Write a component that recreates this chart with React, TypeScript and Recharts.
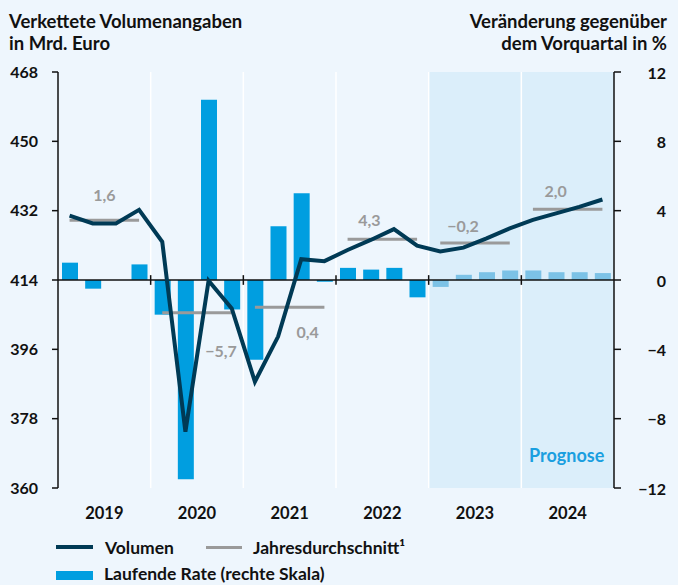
import { ComposedChart, Bar, Line, XAxis, YAxis, ReferenceArea, ReferenceLine, Cell } from 'recharts';

const FONT = 'Lato, "Noto Sans", sans-serif';

// Daten
const years = ['2019', '2020', '2021', '2022', '2023', '2024'];
const quarterNames = ['Q1', 'Q2', 'Q3', 'Q4'];
const quarters = years.flatMap((y) => quarterNames.map((q) => `${y} ${q}`));

// Laufende Rate (rechte Skala, %)
const rate = [1.0, -0.5, 0.0, 0.9, -2.0, -11.5, 10.4, -1.7, -4.6, 3.1, 5.0, -0.1, 0.7, 0.6, 0.7, -1.0, -0.4, 0.3, 0.45, 0.55, 0.55, 0.45, 0.45, 0.4];
// Volumen (linke Skala, Mrd. Euro)
const volumen = [430.7, 428.7, 428.7, 432.2, 423.9, 374.6, 413.8, 406.6, 387.6, 399.3, 419.4, 418.9, 421.8, 424.4, 427.2, 422.9, 421.4, 422.4, 424.8, 427.4, 429.6, 431.3, 433.0, 434.9];
// Jahresdurchschnitt (Niveau) und Veränderung
const avgLevel = [429.5, 405.5, 406.9, 424.6, 423.6, 432.4];
const avgGrowth = ['1,6', '\u22125,7', '0,4', '4,3', '\u22120,2', '2,0'];
const forecastFrom = '2023 Q1';

const leftTicks = [360, 378, 396, 414, 432, 450, 468];
const rightTicks = [-12, -8, -4, 0, 4, 8, 12];

// Label-Versatz (dx, dy) relativ zur Jahresmitte
const labelOffset = [[0, -26], [24, 38], [18, 24], [-13, -20], [-12, -18], [-12, -19]];

const rows = quarters.map((q, i) => {
  const row: Record<string, any> = { q, rate: rate[i], vol: volumen[i] };
  years.forEach((y, yi) => {
    row['avg' + y] = Math.floor(i / 4) === yi ? avgLevel[yi] : null;
  });
  return row;
});

const W = 678;
const H = 585;
const LEFT_W = 58;
const RIGHT_W = 64;
const BAND = (W - LEFT_W - RIGHT_W) / quarters.length;

const fmt = (v: number) => String(v).replace('-', '\u2212');

const YearTick = (props: any) => {
  const { x, y, payload } = props;
  if (!String(payload.value).endsWith('Q2')) return null;
  return (
    <text x={x + BAND / 2} y={y + 17} textAnchor="middle" dominantBaseline="central"
      fontFamily={FONT} fontWeight={700} fontSize={16.5} fill="#111">
      {String(payload.value).slice(0, 4)}
    </text>
  );
};

const RightTick = (props: any) => {
  const { x, y, payload } = props;
  return (
    <text x={x + 43} y={y} textAnchor="end" dominantBaseline="central"
      fontFamily={FONT} fontWeight={700} fontSize={16} fill="#111">
      {fmt(payload.value)}
    </text>
  );
};

const avgLabel = (yi: number) => (props: any) => {
  const { x, y, index } = props;
  if (index !== yi * 4 + 1) return null;
  return (
    <text x={x + BAND / 2 + labelOffset[yi][0]} y={y + labelOffset[yi][1]} textAnchor="middle"
      dominantBaseline="central" fontFamily={FONT} fontWeight={700} fontSize={16} fill="#9a9a9a">
      {avgGrowth[yi]}
    </text>
  );
};

const titleStyle = { position: 'absolute' as const, top: 10, fontSize: 18.5, fontWeight: 700, lineHeight: '22px' };
const legendText = { position: 'absolute' as const, fontSize: 17.5, fontWeight: 700, lineHeight: '20px', whiteSpace: 'nowrap' as const };

export default function App() {
  const fcIndex = quarters.indexOf(forecastFrom);
  return (
    <div style={{ position: 'absolute', left: 0, top: 0, width: W, height: H, overflow: 'hidden', background: '#eef6fd', fontFamily: FONT, color: '#111' }}>
      <div style={{ ...titleStyle, left: 9 }}>
        Verkettete Volumenangaben<br />in Mrd. Euro
      </div>
      <div style={{ ...titleStyle, right: 11, textAlign: 'right' }}>
        Veränderung gegenüber<br />dem Vorquartal in %
      </div>

      <div style={{ position: 'absolute', left: 0, top: 0 }}>
        <ComposedChart width={W} height={H} data={rows} margin={{ top: 72, right: 0, bottom: 57, left: 0 }}>
          <XAxis dataKey="q" interval={0} tickLine={false} axisLine={false} height={40} tick={YearTick} />
          <YAxis yAxisId="left" domain={[360, 468]} ticks={leftTicks} width={LEFT_W} tickSize={6} tickMargin={14}
            axisLine={{ stroke: '#111', strokeWidth: 1.5 }} tickLine={{ stroke: '#111', strokeWidth: 1.5 }}
            tick={{ fill: '#111', fontSize: 16, fontWeight: 700, fontFamily: FONT }} allowDataOverflow />
          <YAxis yAxisId="right" orientation="right" domain={[-12, 12]} ticks={rightTicks} width={RIGHT_W} tickSize={7}
            axisLine={{ stroke: '#111', strokeWidth: 1.5 }} tickLine={{ stroke: '#111', strokeWidth: 1.5 }}
            tick={RightTick} allowDataOverflow />

          <ReferenceArea yAxisId="left" x1={forecastFrom} x2={quarters[quarters.length - 1]} y1={360} y2={468}
            fill="#dbeefa" fillOpacity={1} stroke="none" />
          {years.slice(1).map((y) => (
            <ReferenceLine key={'g' + y} yAxisId="left" x={`${y} Q1`} position="start" stroke="#ffffff" strokeWidth={1.5} />
          ))}

          <Bar yAxisId="right" dataKey="rate" barSize={16} isAnimationActive={false}>
            {rows.map((r, i) => (
              <Cell key={r.q} fill={i >= fcIndex ? '#7cc2e6' : '#009ee0'} />
            ))}
          </Bar>

          <ReferenceLine yAxisId="right" y={0} stroke="#111" strokeWidth={1.5} />
          {years.slice(1).map((y) => (
            <ReferenceLine key={'t' + y} yAxisId="right" position="start" stroke="#111" strokeWidth={1.5}
              segment={[{ x: `${y} Q1`, y: -0.28 }, { x: `${y} Q1`, y: 0.28 }]} />
          ))}

          {years.map((y, yi) => (
            <Line key={y} yAxisId="left" type="linear" dataKey={'avg' + y} stroke="#9a9a9a" strokeWidth={3}
              dot={false} connectNulls={false} isAnimationActive={false} label={avgLabel(yi)} />
          ))}
          <Line yAxisId="left" type="linear" dataKey="vol" stroke="#003a55" strokeWidth={4} dot={false}
            isAnimationActive={false} />
        </ComposedChart>
      </div>

      <div style={{ position: 'absolute', left: 529, top: 444, fontSize: 18, lineHeight: '22px', fontWeight: 700, color: '#1a9fe0' }}>Prognose</div>

      <div style={{ position: 'absolute', left: 56, top: 545, width: 37, height: 4, background: '#003a55' }} />
      <div style={{ ...legendText, left: 105, top: 538 }}>Volumen</div>
      <div style={{ position: 'absolute', left: 206, top: 546, width: 36, height: 3, background: '#9a9a9a' }} />
      <div style={{ ...legendText, left: 253, top: 538 }}>Jahresdurchschnitt¹</div>
      <div style={{ position: 'absolute', left: 56, top: 571, width: 37, height: 9, background: '#009ee0' }} />
      <div style={{ ...legendText, left: 104, top: 564 }}>Laufende Rate (rechte Skala)</div>
    </div>
  );
}
